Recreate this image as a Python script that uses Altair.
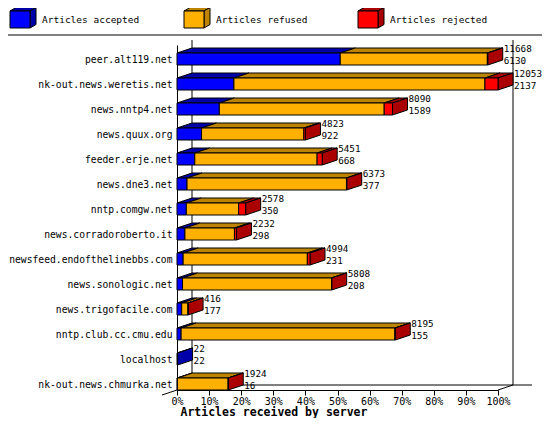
import json
import altair as alt
import pandas as pd

# ---------------- data ----------------
hosts = [
    "peer.alt119.net", "nk-out.news.weretis.net", "news.nntp4.net",
    "news.quux.org", "feeder.erje.net", "news.dne3.net", "nntp.comgw.net",
    "news.corradoroberto.it", "newsfeed.endofthelinebbs.com",
    "news.sonologic.net", "news.trigofacile.com", "nntp.club.cc.cmu.edu",
    "localhost", "nk-out.news.chmurka.net",
]
total = [11668, 12053, 8090, 4823, 5451, 6373, 2578, 2232, 4994, 5808, 416, 8195, 22, 1924]
accepted = [6130, 2137, 1589, 922, 668, 377, 350, 298, 231, 208, 177, 155, 22, 16]
refused = [5523, 9426, 6191, 3841, 4593, 5986, 1965, 1859, 4663, 5595, 237, 8028, 0, 1905]
rejected = [15, 490, 310, 60, 190, 10, 263, 75, 100, 5, 2, 12, 0, 3]
segments = ["Articles accepted", "Articles refused", "Articles rejected"]
x_ticks = list(range(0, 101, 10))

# ---------------- styles / layout ----------------
FONT = "DejaVu Sans Mono"
front_colors = ["#0000FF", "#FFB000", "#FF0000"]
dark_colors = ["#0000AA", "#BC8400", "#AA0000"]

PAGE = 8                              # page margin
PX_X0, PX_PER_PCT = 177.0, 3.21       # 0% position and pixels per percent
PX_Y0, PX_PER_ROW = 45.0, 25.0        # plot top and pixels per row
W, H = 321, 345
SVG_W, SVG_H = 534, 410
H_UNITS = H / PX_PER_ROW
PAD = {
    "left": PX_X0 - PAGE,
    "top": PX_Y0 - PAGE,
    "right": SVG_W - (PX_X0 - PAGE) - W,
    "bottom": SVG_H - (PX_Y0 - PAGE) - H,
}


def ux(p):
    return (p - PX_X0) / PX_PER_PCT


def uy(p):
    return (p - PX_Y0) / PX_PER_ROW


DX = 15 / PX_PER_PCT
DY = 5 / PX_PER_ROW
BAR_TOP, BAR_BOT, LABEL_POS = 0.32, 0.80, 0.56

xs = alt.Scale(domain=[0, 100], nice=False, zero=False)
ys = alt.Scale(domain=[0, H_UNITS], nice=False, zero=False, reverse=True)

# ---------------- build tables ----------------
max_total = max(total)
front, tops, sides, labels = [], [], [], []
for i in range(len(hosts)):
    vals = [accepted[i], refused[i], rejected[i]]
    top, bot = i + BAR_TOP, i + BAR_BOT
    cum, last = 0, 0
    for k, v in enumerate(vals):
        if v <= 0:
            continue
        x0 = cum / max_total * 100
        x1 = (cum + v) / max_total * 100
        fid = f"{i}-{k}"
        front.append(dict(x0=x0, x1=x1, ya=top, yb=bot, fill=front_colors[k]))
        tops.append(dict(id=fid, y=top, xa=x0, xb=x1, fill=dark_colors[k]))
        tops.append(dict(id=fid, y=top - DY, xa=x0 + DX, xb=x1 + DX, fill=dark_colors[k]))
        cum += v
        last = k
    xe = cum / max_total * 100
    sides.append(dict(id=str(i), x=xe, ya=bot, yb=top, fill=dark_colors[last]))
    sides.append(dict(id=str(i), x=xe + DX, ya=bot - DY, yb=top - DY, fill=dark_colors[last]))
    labels.append(dict(x=xe + DX, y=top, tot=str(total[i]), acc=str(accepted[i])))

front_df = pd.DataFrame(front)
tops_df = pd.DataFrame(tops)
sides_df = pd.DataFrame(sides)
labels_df = pd.DataFrame(labels)

# legend cubes
LDX, LDY = 6 / PX_PER_PCT, 3.5 / PX_PER_ROW
leg_front, leg_top, leg_side, leg_text = [], [], [], []
for k, name in enumerate(segments):
    lx0, lx1 = ux(10 + 174 * k), ux(30 + 174 * k)
    ly0, ly1 = uy(11), uy(28)
    leg_front.append(dict(x0=lx0, x1=lx1, ya=ly0, yb=ly1, fill=front_colors[k]))
    leg_top.append(dict(id=str(k), y=ly0, xa=lx0, xb=lx1, fill=dark_colors[k]))
    leg_top.append(dict(id=str(k), y=ly0 - LDY, xa=lx0 + LDX, xb=lx1 + LDX, fill=dark_colors[k]))
    leg_side.append(dict(id=str(k), x=lx1, ya=ly1, yb=ly0, fill=dark_colors[k]))
    leg_side.append(dict(id=str(k), x=lx1 + LDX, ya=ly1 - LDY, yb=ly0 - LDY, fill=dark_colors[k]))
    leg_text.append(dict(x=ux(42 + 174 * k), y=uy(20), label=name))

# frame lines (3D walls, floor, legend separator)
walls_df = pd.DataFrame([
    dict(x=DX, x2=DX, y=-DY, y2=H_UNITS - DY),
    dict(x=100 + DX, x2=100 + DX, y=-DY, y2=H_UNITS - DY),
    dict(x=DX, x2=ux(532), y=H_UNITS - DY, y2=H_UNITS - DY),
    dict(x=-DX, x2=DX, y=H_UNITS + DY, y2=H_UNITS - DY),
    dict(x=100, x2=100 + DX, y=H_UNITS, y2=H_UNITS - DY),
    dict(x=ux(0), x2=ux(550), y=uy(35), y2=uy(35)),
])

# ---------------- axes (same definition on every layer) ----------------
x_axis = alt.Axis(
    values=x_ticks, labelExpr="datum.value + '%'", tickSize=5, tickColor="black",
    domainColor="black", labelColor="black", labelFont=FONT, labelFontSize=10,
    labelPadding=1, labelFlush=False, labelOverlap=False, grid=False,
    title="Articles received by server",
    titleFont=FONT, titleFontSize=11.5, titleFontWeight="bold", titleColor="black",
    titleAnchor="start", titleAlign="left", titleX=3, titleY=22.5, titleBaseline="middle",
)
y_axis = alt.Axis(
    values=[i + LABEL_POS for i in range(len(hosts))],
    labelExpr=json.dumps(hosts) + "[round(datum.value - %s)]" % LABEL_POS,
    ticks=False, tickSize=0, domainColor="black", labelColor="black",
    labelFont=FONT, labelFontSize=9.7, labelPadding=5, grid=False, title="",
    labelOverlap=False,
)


def X(field):
    return alt.X(field, type="quantitative", scale=xs, axis=x_axis)


def Y(field):
    return alt.Y(field, type="quantitative", scale=ys, axis=y_axis)


def rects(df):
    return alt.Chart(df).mark_bar(stroke="black", strokeWidth=1, opacity=1).encode(
        x=X("x0"), x2="x1", y=Y("ya"), y2="yb",
        fill=alt.Fill("fill:N", scale=None),
    )


def top_faces(df):
    return alt.Chart(df).mark_area(orient="horizontal", stroke="black", strokeWidth=1, opacity=1).encode(
        y=Y("y"), x=X("xa"), x2="xb", detail="id:N",
        fill=alt.Fill("fill:N", scale=None),
    )


def side_faces(df):
    return alt.Chart(df).mark_area(orient="vertical", stroke="black", strokeWidth=1, opacity=1).encode(
        x=X("x"), y=Y("ya"), y2="yb", detail="id:N",
        fill=alt.Fill("fill:N", scale=None),
    )


walls = alt.Chart(walls_df).mark_rule(color="black", strokeWidth=1).encode(
    x=X("x"), x2="x2", y=Y("y"), y2="y2",
)

leg_txt = alt.Chart(pd.DataFrame(leg_text)).mark_text(
    align="left", baseline="middle", font=FONT, fontSize=9.5, color="black"
).encode(x=X("x"), y=Y("y"), text="label:N")

tot_txt = alt.Chart(labels_df).mark_text(
    align="left", baseline="middle", font=FONT, fontSize=9.3, color="black", dx=1, dy=-4
).encode(x=X("x"), y=Y("y"), text="tot:N")

acc_txt = alt.Chart(labels_df).mark_text(
    align="left", baseline="middle", font=FONT, fontSize=9.3, color="black", dx=1, dy=8
).encode(x=X("x"), y=Y("y"), text="acc:N")

chart = alt.layer(
    walls,
    top_faces(tops_df),
    side_faces(sides_df),
    rects(front_df),
    top_faces(pd.DataFrame(leg_top)),
    side_faces(pd.DataFrame(leg_side)),
    rects(pd.DataFrame(leg_front)),
    leg_txt,
    tot_txt,
    acc_txt,
).properties(
    width=W, height=H, padding=PAD, background="white",
    autosize=alt.AutoSizeParams(type="none"),
).configure_view(strokeWidth=0)

chart.save("out.html", embed_options={"renderer": "svg", "actions": False})
